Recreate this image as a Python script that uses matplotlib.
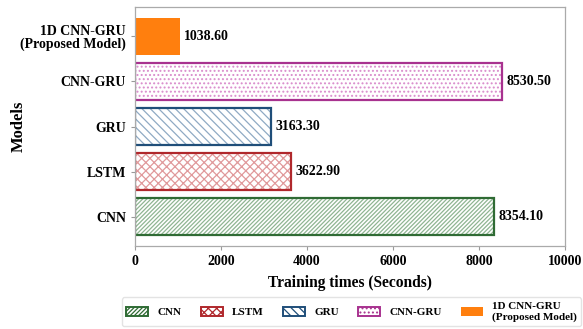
import numpy as np
import matplotlib.pyplot as plt
from matplotlib.patches import Patch

plt.rcParams['font.family'] = ['Liberation Serif', 'DejaVu Serif']
plt.rcParams['font.weight'] = 'bold'
plt.rcParams['hatch.linewidth'] = 0.9

# --- data ---
models = ["CNN", "LSTM", "GRU", "CNN-GRU", "1D CNN-GRU\n(Proposed Model)"]
times = [8354.10, 3622.90, 3163.30, 8530.50, 1038.60]

# --- styles ---
edge_colors = ["#2f6b34", "#b0282c", "#1f4e79", "#a8328f", "#ff7f0e"]
hatch_colors = ["#8fb592", "#e0999b", "#8faac4", "#d98ccc", "#ff7f0e"]
hatches = ["////////", "xxxx", "\\\\\\\\", "....", None]

fig = plt.figure(figsize=(5.83, 3.29), dpi=100)
ax = fig.add_axes([0.2316, 0.252, 0.7374, 0.727])

y = np.arange(len(models))
h = 0.82
for i, (t, ec, hc, ht) in enumerate(zip(times, edge_colors, hatch_colors, hatches)):
    if ht is None:
        ax.barh(y[i], t, height=h, color=ec, edgecolor=ec, linewidth=0)
    else:
        # hatch layer in light colour, then outline in the dark colour
        ax.barh(y[i], t, height=h, color="white", edgecolor=hc, hatch=ht, linewidth=0)
        ax.barh(y[i], t, height=h, color="none", edgecolor=ec, linewidth=1.6)
    ax.text(t + 100, y[i], f"{t:.2f}", va="center", ha="left",
            fontsize=10, fontweight="bold")

ax.set_xlim(0, 10000)
ax.set_yticks(y)
ax.set_yticklabels(models, fontsize=10, fontweight="bold", linespacing=1.0)
ax.tick_params(axis="x", labelsize=10, colors="#999999", labelcolor="black", length=3)
ax.tick_params(axis="y", colors="#999999", labelcolor="black", length=3)
for lab in ax.get_xticklabels():
    lab.set_fontweight("bold")
for s in ax.spines.values():
    s.set_color("#aaaaaa")
    s.set_linewidth(0.9)

ax.set_xlabel("Training times (Seconds)", fontsize=11.2, fontweight="bold", labelpad=5)
ax.set_ylabel("Models", fontsize=12, fontweight="bold")
ax.yaxis.set_label_coords(-0.251, 0.5)

handles = []
for ec, hc, ht in zip(edge_colors, hatch_colors, hatches):
    if ht is None:
        handles.append(Patch(facecolor=ec, edgecolor=ec, linewidth=0))
    else:
        handles.append(Patch(facecolor="white", edgecolor=ec, hatch=ht, linewidth=1.4))
leg_labels = ["CNN", "LSTM", "GRU", "CNN-GRU", "1D CNN-GRU\n(Proposed Model)"]
leg = fig.legend(handles, leg_labels, loc="center", ncol=5,
                 bbox_to_anchor=(0.603, 0.052),
                 handlelength=2.0, handleheight=0.8, columnspacing=1.75,
                 frameon=True, edgecolor="#dddddd", fancybox=True,
                 prop={"weight": "bold", "size": 8})

fig.savefig("out.png", dpi=100)
